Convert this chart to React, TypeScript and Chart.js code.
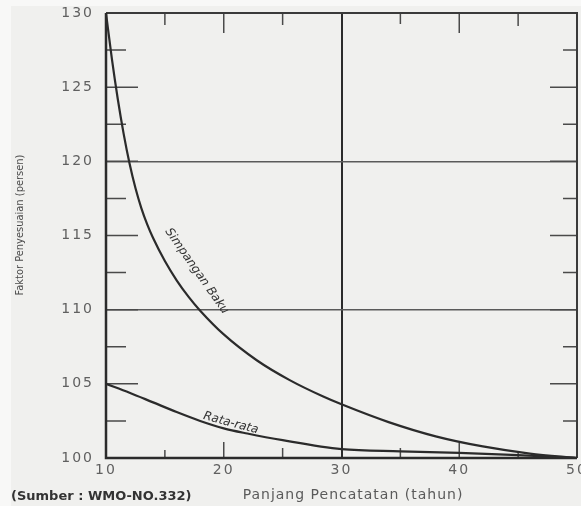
import React, { useEffect, useRef } from "react";
import { Chart, registerables } from "chart.js";

Chart.register(...registerables);

// Record length in years
const simpanganYears = [10, 10.5, 11, 11.5, 12, 12.5, 13, 13.5, 14, 15, 16, 17, 18, 20, 22.8, 25.6, 28.4, 30, 34, 38, 42, 46, 50];
// Adjustment factor (percent) for the standard deviation
const simpanganValues = [130, 126.9, 124.2, 121.85, 119.85, 118.2, 116.85, 115.75, 114.83, 113.28, 111.98, 110.88, 109.93, 108.33, 106.59, 105.25, 104.16, 103.62, 102.42, 101.46, 100.78, 100.3, 100];

const rataYears = [10, 12, 14, 16, 18, 20, 22, 25, 30, 35, 40, 45, 50];
// Adjustment factor (percent) for the mean
const rataValues = [105, 104.4, 103.75, 103.1, 102.5, 102.0, 101.65, 101.2, 100.6, 100.45, 100.35, 100.2, 100];

const xTicks = [10, 20, 30, 40, 50];
const yTicks = [100, 105, 110, 115, 120, 125, 130];

const yTitle = "Faktor Penyesuaian (persen)";
const xTitle = "Panjang Pencatatan (tahun)";
const sourceNote = "(Sumber : WMO-NO.332)";

const INK = "#2b2b2b";

const decorPlugin = {
  id: "decor",
  beforeDraw(chart: any) {
    const { ctx, width, height } = chart;
    ctx.save();
    ctx.fillStyle = "#f8f8f7";
    ctx.fillRect(0, 0, width, height);
    ctx.fillStyle = "#f0f0ee";
    ctx.fillRect(11, 6, width - 11, height - 6);
    ctx.restore();
    // wide-set digits for the axis tick labels
    ctx.letterSpacing = "2px";
  },
  beforeDatasetsDraw(chart: any) {
    const { ctx, chartArea: a, scales } = chart;
    ctx.letterSpacing = "0px";
    const xs = scales.x;
    const ys = scales.y;
    ctx.save();
    ctx.strokeStyle = "#4a4a4a";
    ctx.lineWidth = 1.5;
    // inward ticks on left and right edges every 2.5 %
    for (let v = 102.5; v < 130; v += 2.5) {
      const y = ys.getPixelForValue(v);
      const major = v % 5 === 0;
      ctx.beginPath();
      ctx.moveTo(a.left, y);
      ctx.lineTo(a.left + (major ? 32 : 20), y);
      ctx.moveTo(a.right, y);
      ctx.lineTo(a.right - (major ? 27 : 14), y);
      ctx.stroke();
    }
    // ticks along top and bottom every 5 years
    const topLen: Record<number, number> = { 15: 12, 20: 20, 25: 12, 35: 11, 40: 20, 45: 13 };
    const botLen: Record<number, number> = { 15: 8, 20: 16, 25: 10, 35: 10, 40: 15, 45: 6 };
    for (const yr of [15, 20, 25, 35, 40, 45]) {
      const x = xs.getPixelForValue(yr);
      ctx.beginPath();
      ctx.moveTo(x, a.top);
      ctx.lineTo(x, a.top + topLen[yr]);
      ctx.moveTo(x, a.bottom);
      ctx.lineTo(x, a.bottom - botLen[yr]);
      ctx.stroke();
    }
    // frame
    ctx.strokeStyle = "#3a3a3a";
    ctx.lineWidth = 2;
    ctx.beginPath();
    ctx.moveTo(a.left, a.top);
    ctx.lineTo(a.right, a.top);
    ctx.lineTo(a.right, a.bottom);
    ctx.stroke();
    ctx.strokeStyle = INK;
    ctx.lineWidth = 2.5;
    ctx.beginPath();
    ctx.moveTo(a.left, a.top);
    ctx.lineTo(a.left, a.bottom);
    ctx.lineTo(a.right, a.bottom);
    ctx.stroke();
    ctx.restore();
  },
  afterDraw(chart: any) {
    const { ctx, scales } = chart;
    const xs = scales.x;
    const ys = scales.y;
    ctx.save();
    ctx.letterSpacing = "0px";
    // curve labels
    ctx.fillStyle = "#333";
    ctx.textAlign = "center";
    ctx.textBaseline = "middle";
    ctx.font = "italic 12px 'DejaVu Sans'";
    ctx.save();
    ctx.translate(xs.getPixelForValue(17.7), ys.getPixelForValue(112.6));
    ctx.rotate((55 * Math.PI) / 180);
    ctx.fillText("Simpangan Baku", 0, 0);
    ctx.restore();
    ctx.save();
    ctx.translate(xs.getPixelForValue(20.6), ys.getPixelForValue(102.35));
    ctx.rotate((15 * Math.PI) / 180);
    ctx.fillText("Rata-rata", 0, 0);
    ctx.restore();

    // axis titles
    ctx.fillStyle = "#4a4a4a";
    ctx.font = "11px 'DejaVu Sans Condensed'";
    ctx.save();
    ctx.translate(20, 225);
    ctx.rotate(-Math.PI / 2);
    ctx.fillText(yTitle, 0, 0);
    ctx.restore();

    ctx.fillStyle = "#5a5a5a";
    ctx.font = "14px 'DejaVu Sans'";
    ctx.letterSpacing = "1px";
    ctx.fillText(xTitle, 353, 495);
    ctx.letterSpacing = "0px";

    ctx.fillStyle = "#333";
    ctx.textAlign = "left";
    ctx.font = "bold 13px 'DejaVu Sans'";
    ctx.fillText(sourceNote, 11, 497);
    ctx.restore();
  },
};

export default function App() {
  const canvasRef = useRef<HTMLCanvasElement | null>(null);

  useEffect(() => {
    const canvas = canvasRef.current;
    if (!canvas) return;
    const chart = new Chart(canvas, {
      type: "line",
      data: {
        datasets: [
          {
            label: "Simpangan Baku",
            data: simpanganYears.map((x, i) => ({ x, y: simpanganValues[i] })),
            borderColor: INK,
            borderWidth: 2.2,
            pointRadius: 0,
            cubicInterpolationMode: "monotone",
            fill: false,
          },
          {
            label: "Rata-rata",
            data: rataYears.map((x, i) => ({ x, y: rataValues[i] })),
            borderColor: INK,
            borderWidth: 2.2,
            pointRadius: 0,
            cubicInterpolationMode: "monotone",
            fill: false,
          },
        ],
      },
      options: {
        responsive: false,
        animation: false,
        layout: { padding: { top: 13, right: 4, left: 0, bottom: 0 } },
        plugins: {
          legend: { display: false },
          tooltip: { enabled: false },
        },
        scales: {
          x: {
            type: "linear",
            min: 10,
            max: 50,
            afterBuildTicks: (scale: any) => {
              scale.ticks = xTicks.map((value) => ({ value }));
            },
            afterFit: (scale: any) => {
              scale.height = 48;
              scale.paddingLeft = 0;
              scale.paddingRight = 0;
            },
            border: { display: false },
            grid: {
              drawTicks: false,
              color: (c: any) => (c.tick && c.tick.value === 30 ? INK : "rgba(0,0,0,0)"),
              lineWidth: 2,
            },
            ticks: {
              padding: 4,
              color: "#606060",
              font: { family: "'DejaVu Sans'", size: 14 },
              maxRotation: 0,
            },
          },
          y: {
            type: "linear",
            min: 100,
            max: 130,
            afterBuildTicks: (scale: any) => {
              scale.ticks = yTicks.map((value) => ({ value }));
            },
            afterFit: (scale: any) => {
              scale.width = 106;
              scale.paddingTop = 0;
              scale.paddingBottom = 0;
            },
            border: { display: false },
            grid: {
              drawTicks: false,
              color: (c: any) =>
                c.tick && (c.tick.value === 110 || c.tick.value === 120) ? "#5a5a5a" : "rgba(0,0,0,0)",
              lineWidth: 1.6,
            },
            ticks: {
              padding: 12,
              color: "#606060",
              font: { family: "'DejaVu Sans'", size: 14 },
            },
          },
        },
      },
      plugins: [decorPlugin],
    });
    return () => chart.destroy();
  }, []);

  return (
    <div style={{ position: "fixed", left: 0, top: 0, width: 581, height: 506 }}>
      <canvas ref={canvasRef} width={581} height={506} />
    </div>
  );
}
